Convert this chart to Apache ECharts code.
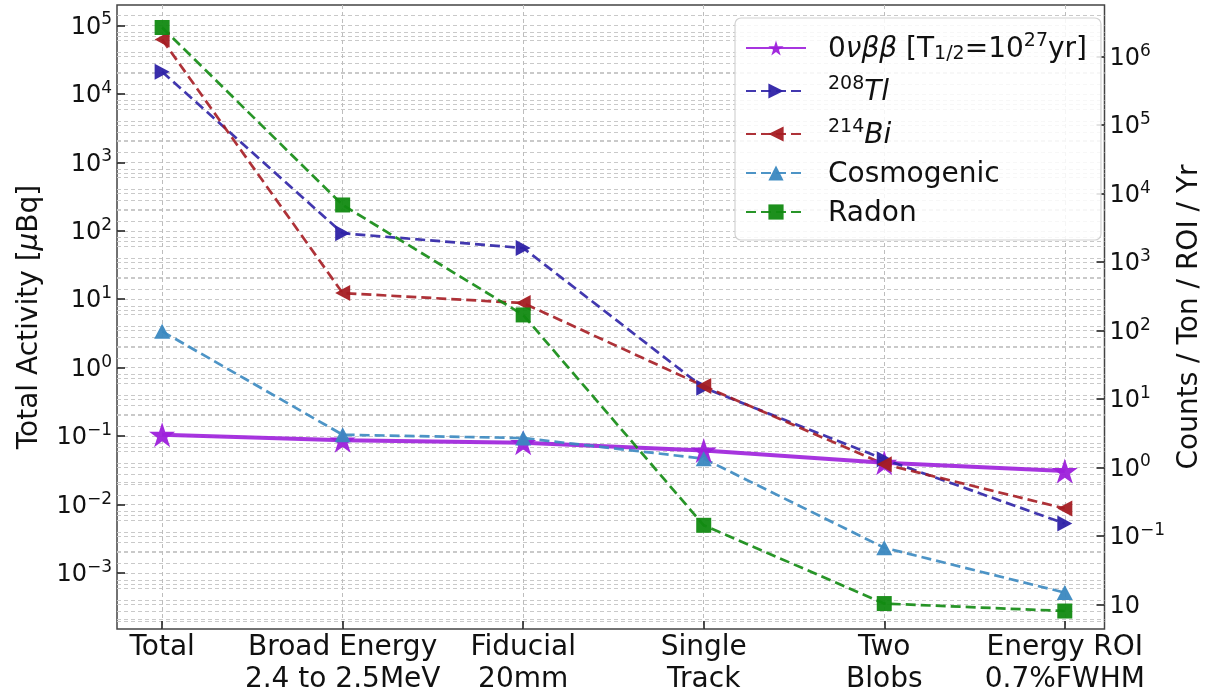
<!DOCTYPE html>
<html>
<head>
<meta charset="utf-8">
<script src="https://cdn.jsdelivr.net/npm/echarts@6/dist/echarts.min.js"></script>
<style>
html,body{margin:0;padding:0;background:#ffffff;}
#chart{width:1212px;height:696px;}
</style>
</head>
<body>
<div id="chart"></div>
<script>
// ---------- data ----------
const categories = ['Total', 'Broad Energy\n2.4 to 2.5MeV', 'Fiducial\n20mm', 'Single\nTrack', 'Two\nBlobs', 'Energy ROI\n0.7%FWHM'];
const seriesNames = ['zeroNuBB', 'Tl208', 'Bi214', 'Cosmogenic', 'Radon'];
const zeroNuBB   = [0.105, 0.087, 0.080, 0.062, 0.041, 0.031];
const tl208      = [2.1e4, 92, 56, 0.51, 0.046, 0.0053];
const bi214      = [6.2e4, 12.3, 8.8, 0.54, 0.039, 0.0088];
const cosmogenic = [3.4, 0.105, 0.094, 0.047, 0.00235, 0.00052];
const radon      = [9.3e4, 238, 5.9, 0.0050, 0.00036, 0.00028];

const leftMajorTicks  = [1e-3, 1e-2, 1e-1, 1, 10, 100, 1e3, 1e4, 1e5];
const rightMajorTicks = [1e-2, 1e-1, 1, 10, 100, 1e3, 1e4, 1e5, 1e6];
const minorSubs = [2, 4, 6, 8];
const leftRange  = [1.53e-4, 1.98e5];
const rightRange = [4.39e-3, 5.68e6];
const xTickPositions = [0, 1, 2, 3, 4, 5];

// ---------- helpers ----------
function minorTicks(range) {
  const out = [];
  const lo = Math.floor(Math.log10(range[0]));
  const hi = Math.ceil(Math.log10(range[1]));
  for (let e = lo; e <= hi; e++) {
    minorSubs.forEach(function (s) {
      const v = Number((s * Math.pow(10, e)).toPrecision(4));
      if (v >= range[0] && v <= range[1]) out.push(v);
    });
  }
  return out;
}
function expOf(v) { return Math.round(Math.log10(v)); }
function supText(e) { return String(e).replace('-', '\u2212'); }

const FONT = 'DejaVu Sans';
const GRID_COLOR = '#c9c9c9';
const AXIS_COLOR = '#444444';

const tickRich = {
  b: { fontFamily: FONT, fontSize: 24, color: '#111', lineHeight: 28, verticalAlign: 'bottom' },
  s: { fontFamily: FONT, fontSize: 17, color: '#111', lineHeight: 16, verticalAlign: 'top' }
};

const starPath = 'path://M0,-1L0.2245,-0.309L0.951,-0.309L0.3633,0.118L0.588,0.809L0,0.382L-0.588,0.809L-0.3633,0.118L-0.951,-0.309L-0.2245,-0.309Z';
const triRight = 'path://M0,0L1,0.5L0,1Z';
const triLeft  = 'path://M1,0L0,0.5L1,1Z';

function pairs(vals) { return vals.map(function (v, i) { return [i, v]; }); }

const dashed = [10, 5];

const seriesDefs = [
  { name: seriesNames[0], values: zeroNuBB,   color: '#9d1fdb', width: 4,   type: 'solid', symbol: starPath, size: [26, 25] },
  { name: seriesNames[1], values: tl208,      color: '#2e22a6', width: 2.7, type: dashed, symbol: triRight, size: [15, 16] },
  { name: seriesNames[2], values: bi214,      color: '#a51c22', width: 2.7, type: dashed, symbol: triLeft,  size: [15, 16] },
  { name: seriesNames[3], values: cosmogenic, color: '#3a88c0', width: 2.7, type: dashed, symbol: 'triangle', size: [16, 15] },
  { name: seriesNames[4], values: radon,      color: '#118a11', width: 2.7, type: dashed, symbol: 'rect', size: [15, 15] }
];

const legendLabels = {
  zeroNuBB: '{n|0}{i|νββ}{n| [T}{sub|1/2}{n|=10}{sup|27}{n|yr]}',
  Tl208: '{sup|208}{i|Tl}',
  Bi214: '{sup|214}{i|Bi}',
  Cosmogenic: '{n|Cosmogenic}',
  Radon: '{n|Radon}'
};

function yAxisMajor(pos, range, ticks, name, nameGap, labelFn) {
  return {
    type: 'log', position: pos, min: range[0], max: range[1], logBase: 10,
    axisLine: { show: false, onZero: false },
    axisTick: { show: true, inside: true, length: 8, customValues: ticks, lineStyle: { color: '#222', width: 1.6 } },
    axisLabel: { show: true, customValues: ticks, margin: 5, formatter: labelFn, rich: tickRich },
    splitLine: { show: true, lineStyle: { color: GRID_COLOR, type: [4, 3], width: 1 } },
    minorTick: { show: false }, minorSplitLine: { show: false },
    name: name, nameLocation: 'middle', nameRotate: 90, nameGap: nameGap,
    nameTextStyle: { fontFamily: FONT, fontSize: 28, color: '#111', rich: {
      n: { fontFamily: FONT, fontSize: 28, color: '#111' },
      i: { fontFamily: FONT, fontSize: 28, color: '#111', fontStyle: 'italic' }
    } }
  };
}
function yAxisMinor(pos, range) {
  const t = minorTicks(range);
  return {
    type: 'log', position: pos, min: range[0], max: range[1], logBase: 10,
    axisLine: { show: false, onZero: false },
    axisTick: { show: false, customValues: t },
    axisLabel: { show: false, customValues: t },
    splitLine: { show: true, lineStyle: { color: GRID_COLOR, type: [4, 3], width: 1 } },
    minorTick: { show: false }, minorSplitLine: { show: false }
  };
}

const option = {
  animation: false,
  backgroundColor: '#ffffff',
  grid: { left: 117, right: 94, top: 5, bottom: 66, show: true, borderColor: AXIS_COLOR, borderWidth: 1.5, backgroundColor: 'transparent' },
  legend: {
    show: true, orient: 'vertical', left: 735, top: 18, align: 'left',
    padding: [14, 14, 12, 10], itemGap: 11, itemWidth: 60, itemHeight: 19,
    backgroundColor: 'rgba(255,255,255,0.85)', borderColor: '#d2d2d2', borderWidth: 1.2, borderRadius: 6,
    data: seriesNames,
    formatter: function (n) { return legendLabels[n]; },
    textStyle: {
      fontFamily: FONT, fontSize: 28, color: '#111', padding: [0, 0, 0, 17],
      rich: {
        n: { fontFamily: FONT, fontSize: 28, color: '#111', lineHeight: 32, verticalAlign: 'bottom' },
        i: { fontFamily: FONT, fontSize: 28, color: '#111', fontStyle: 'italic', lineHeight: 32, verticalAlign: 'bottom' },
        sup: { fontFamily: FONT, fontSize: 19, color: '#111', lineHeight: 20, verticalAlign: 'top' },
        sub: { fontFamily: FONT, fontSize: 19, color: '#111', lineHeight: 18, verticalAlign: 'bottom' }
      }
    }
  },
  xAxis: {
    type: 'value', min: -0.25, max: 5.22,
    axisLine: { show: false, onZero: false },
    axisTick: { show: true, inside: true, length: 8, customValues: xTickPositions, lineStyle: { color: '#222', width: 1.6 } },
    axisLabel: {
      show: true, customValues: xTickPositions, margin: 3,
      fontFamily: FONT, fontSize: 28, color: '#111', lineHeight: 32,
      formatter: function (v) { return categories[Math.round(v)]; }
    },
    splitLine: { show: true, lineStyle: { color: '#bdbdbd', type: [4, 3], width: 1 } }
  },
  yAxis: [
    yAxisMajor('left', leftRange, leftMajorTicks, '{n|Total Activity [}{i|μ}{n|Bq]}', 73,
      function (v) { return '{b|10}{s|' + supText(expOf(v)) + '}'; }),
    yAxisMinor('left', leftRange),
    yAxisMajor('right', rightRange, rightMajorTicks, '{n|Counts / Ton / ROI / Yr}', 66,
      function (v) { const e = expOf(v); return e === -2 ? '{b|10}' : '{b|10}{s|' + supText(e) + '}'; }),
    yAxisMinor('right', rightRange)
  ],
  series: seriesDefs.map(function (d) {
    return {
      name: d.name, type: 'line', yAxisIndex: 0, xAxisIndex: 0,
      data: pairs(d.values),
      symbol: d.symbol, symbolSize: d.size, symbolKeepAspect: false,
      showSymbol: true,
      itemStyle: { color: d.color, opacity: 0.95 },
      lineStyle: { color: d.color, width: d.width, type: d.type, opacity: 0.9 },
      emphasis: { disabled: true },
      z: 3
    };
  })
};

const chart = echarts.init(document.getElementById('chart'), null, { renderer: 'canvas' });
chart.setOption(option);
</script>
</body>
</html>
